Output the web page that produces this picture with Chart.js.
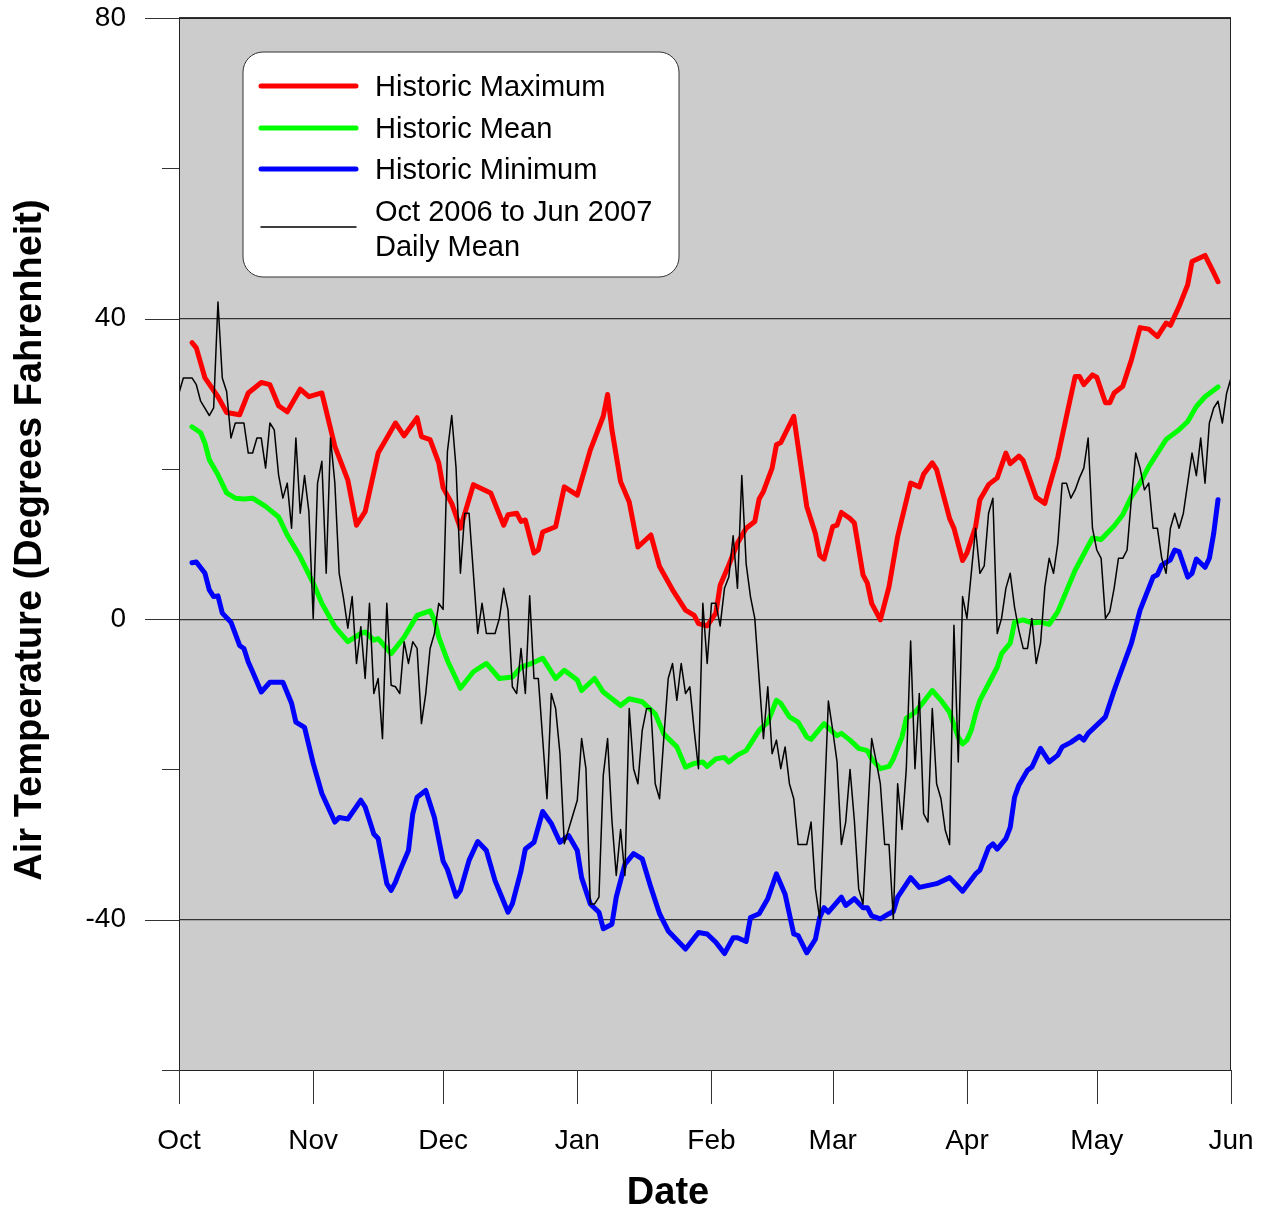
<!DOCTYPE html>
<html>
<head>
<meta charset="utf-8">
<title>Air Temperature - Oct 2006 to Jun 2007</title>
<script src="https://cdn.jsdelivr.net/npm/chart.js@4.4.1/dist/chart.umd.min.js"></script>
<style>
  html, body { margin: 0; padding: 0; background: #fff; }
  #wrap { width: 1266px; height: 1213px; position: relative; }
</style>
</head>
<body>
<div id="wrap"><canvas id="chartTemp"></canvas></div>
<script>
// Month ticks (day of season, Oct 1 = 0)
const monthDays = [0, 31, 61, 92, 123, 151, 182, 212, 243];
const monthLabels = ['Oct', 'Nov', 'Dec', 'Jan', 'Feb', 'Mar', 'Apr', 'May', 'Jun'];

// Historic maximum
const maxDays = [3,4,6,9,11,14,16,19,21,23,25,28,30,33,36,39,41,43,46,50,52,55,56,58,60,61,63,65,68,72,75,76,78,79,80,82,83,84,87,89,92,95,98,99,100,102,104,106,109,111,114,117,119,120,122,124,125,127,129,131,133,134,135,137,138,139,142,145,147,148,149,151,152,153,155,156,158,159,160,162,164,166,169,171,172,174,175,178,179,181,182,184,185,187,189,191,192,194,195,198,200,201,203,205,207,208,209,211,212,214,215,216,218,220,222,224,226,228,229,231,233,234,237,239,240];
const maxVals = [36.8,36.1,32.1,29.6,27.5,27.2,30.1,31.5,31.2,28.4,27.6,30.6,29.6,30.1,23.0,18.5,12.5,14.3,22.1,26.1,24.4,26.8,24.3,23.9,20.8,17.5,15.4,12.1,17.9,16.8,12.5,13.9,14.1,13.0,13.2,8.8,9.2,11.6,12.3,17.6,16.5,22.5,27.0,29.9,25.2,18.3,15.6,9.6,11.2,7.0,3.9,1.2,0.5,-0.6,-0.9,0.8,4.5,7.2,10.1,12.1,13.0,16.0,17.0,20.1,23.2,23.5,27.0,15.0,11.4,8.5,8.0,12.3,12.5,14.2,13.4,12.8,5.9,4.8,2.1,-0.1,4.3,11.0,18.1,17.6,19.3,20.8,19.9,13.4,12.1,7.8,8.8,12.3,15.9,17.9,18.8,22.1,20.7,21.7,21.1,16.2,15.4,17.6,21.6,27.0,32.3,32.3,31.2,32.5,32.2,28.8,28.8,30.1,31.0,34.5,38.8,38.6,37.6,39.4,39.1,41.6,44.5,47.6,48.4,46.1,44.9];

// Historic mean
const meanDays = [3,5,6,7,9,11,13,15,17,20,23,25,28,31,33,36,39,42,43,45,46,49,52,55,58,59,60,62,65,68,71,74,77,79,81,84,87,89,92,93,96,98,102,104,107,110,112,115,117,119,121,122,124,126,127,129,131,134,136,138,139,141,143,145,146,148,149,151,152,153,155,157,159,160,162,164,165,167,168,170,172,174,176,178,180,181,182,183,184,185,187,189,190,192,193,195,197,199,201,203,207,211,213,216,218,220,222,224,228,231,233,235,237,240];
const meanVals = [25.6,24.8,23.4,21.2,19.2,16.8,16.1,16.0,16.1,15.0,13.6,11.2,8.3,4.8,2.1,-1.0,-3.0,-1.9,-1.7,-2.8,-2.6,-4.6,-2.4,0.5,1.1,-0.1,-2.4,-5.5,-9.2,-7.0,-5.9,-7.9,-7.7,-6.4,-6.0,-5.2,-7.9,-6.8,-8.1,-9.5,-7.9,-9.7,-11.5,-10.6,-11.0,-12.6,-15.3,-17.0,-19.7,-19.2,-19.0,-19.6,-18.6,-18.4,-19.0,-18.1,-17.5,-14.8,-13.7,-10.8,-11.2,-13.0,-13.7,-15.7,-16.0,-14.6,-13.9,-15.0,-15.5,-15.2,-16.1,-17.2,-17.5,-18.6,-19.9,-19.6,-18.6,-15.7,-13.2,-12.4,-11.0,-9.5,-10.8,-12.4,-15.7,-16.6,-16.1,-14.8,-12.6,-10.8,-8.6,-6.4,-4.6,-3.2,-0.4,-0.1,-0.5,-0.4,-0.7,1.0,6.5,10.8,10.6,12.4,13.9,16.3,18.1,20.3,23.9,25.2,26.3,28.3,29.6,30.9];

// Historic minimum
const minDays = [3,4,6,7,8,9,10,12,14,15,16,17,19,21,24,26,27,29,31,33,36,37,39,42,43,45,46,48,49,50,51,53,54,55,57,59,60,61,62,64,65,67,69,71,73,76,77,79,80,82,84,86,88,90,92,93,95,97,98,100,101,103,105,107,109,111,113,114,117,120,122,124,126,128,129,131,132,134,136,138,140,142,143,145,147,148,149,150,153,154,156,158,159,160,162,164,165,166,169,171,175,178,181,184,185,187,188,189,191,192,193,194,196,197,199,201,203,204,206,208,209,210,212,214,216,217,220,222,225,226,227,229,230,231,233,234,235,237,238,239,240];
const minVals = [7.5,7.6,6.1,3.9,3.0,3.1,0.8,-0.4,-3.5,-3.9,-5.7,-7.0,-9.7,-8.4,-8.4,-11.2,-13.7,-14.4,-19.2,-23.2,-27.0,-26.4,-26.6,-24.1,-25.0,-28.6,-29.2,-35.2,-36.1,-35.0,-33.5,-30.8,-25.9,-23.7,-22.8,-26.4,-29.3,-32.2,-33.3,-36.9,-36.1,-32.1,-29.6,-30.8,-34.8,-39.0,-37.9,-33.5,-30.6,-29.7,-25.6,-27.2,-29.7,-28.8,-30.8,-34.4,-37.9,-39.0,-41.2,-40.6,-37.0,-32.6,-31.2,-31.9,-35.7,-39.2,-41.5,-42.1,-43.9,-41.7,-41.9,-43.0,-44.5,-42.4,-42.4,-42.9,-39.7,-39.2,-37.2,-33.9,-36.6,-41.9,-42.1,-44.4,-42.6,-39.7,-38.4,-39.0,-37.0,-38.1,-37.2,-38.4,-38.4,-39.5,-39.9,-39.2,-38.9,-37.0,-34.4,-35.7,-35.2,-34.4,-36.2,-33.9,-33.4,-30.4,-29.9,-30.6,-29.2,-27.7,-23.7,-22.1,-20.1,-19.7,-17.2,-19.0,-18.1,-17.0,-16.4,-15.6,-16.1,-15.2,-14.1,-13.0,-9.5,-7.9,-3.2,1.2,5.6,5.9,7.2,7.9,9.2,9.0,5.6,6.1,8.0,6.9,8.1,11.4,15.9];

// Oct 2006 to Jun 2007 daily mean
const dailyDays = [0,1,2,3,4,5,7,8,9,10,11,12,13,14,15,16,17,18,19,20,21,22,23,24,25,26,27,28,29,30,31,32,33,34,35,36,37,38,39,40,41,42,43,44,45,46,47,48,49,50,51,52,53,54,55,56,57,58,59,60,61,62,63,64,65,66,67,69,70,71,72,73,74,75,76,77,78,79,80,81,82,83,85,86,87,88,89,92,93,94,95,96,97,98,99,100,101,102,103,104,105,106,107,108,109,110,111,112,113,114,115,116,117,118,119,120,121,122,123,124,125,126,127,128,129,130,131,132,133,135,136,137,138,139,140,141,142,143,145,146,147,148,150,151,152,153,154,155,156,157,158,160,161,162,163,164,165,166,167,168,169,170,171,172,173,174,175,176,177,178,179,180,181,182,183,184,185,186,187,188,189,190,191,192,193,194,195,196,197,198,199,200,201,202,203,204,205,206,207,208,209,210,211,212,213,214,215,216,217,218,219,220,221,222,223,224,225,226,227,228,229,230,231,232,233,234,235,236,237,238,239,240,241,242,243];
const dailyVals = [30.1,32.1,32.1,32.1,31.2,29.0,27.1,28.1,42.2,32.1,30.3,24.1,26.1,26.1,26.1,22.1,22.1,24.1,24.1,20.1,26.1,25.2,19.2,16.1,18.1,12.1,24.1,14.1,19.1,14.3,0.1,18.1,21.0,6.1,24.1,18.1,6.1,2.8,-1.2,3.0,-5.9,-1.0,-7.9,2.1,-9.9,-7.9,-15.9,2.1,-8.8,-9.0,-9.9,-3.0,-5.9,-3.0,-3.9,-13.9,-9.9,-3.9,-1.9,2.1,1.3,22.3,27.1,20.1,6.1,14.1,14.1,-1.9,2.1,-1.9,-1.9,-1.9,0.1,4.1,1.2,-9.0,-9.9,-3.9,-9.9,3.1,-7.9,-7.9,-23.9,-9.9,-11.9,-17.9,-29.9,-24.1,-15.9,-19.9,-37.9,-37.9,-37.0,-20.8,-15.9,-26.8,-34.1,-28.0,-34.1,-11.9,-19.9,-21.9,-14.8,-11.9,-11.9,-21.9,-23.9,-15.7,-7.9,-5.9,-10.8,-5.9,-9.9,-9.0,-14.8,-19.9,2.1,-5.9,2.1,2.1,-0.9,4.1,5.6,11.1,4.1,19.1,7.4,3.0,0.1,-15.9,-9.0,-17.9,-16.1,-19.9,-17.0,-21.9,-23.9,-30.0,-30.0,-27.0,-35.9,-39.9,-10.9,-14.8,-19.0,-30.0,-27.0,-20.0,-26.8,-35.9,-37.9,-15.9,-18.8,-21.9,-30.0,-30.0,-39.9,-21.9,-28.0,-19.9,-2.9,-19.9,-9.9,-25.9,-27.0,-11.9,-21.9,-23.9,-28.1,-30.0,-0.8,-19.0,3.0,0.1,6.1,12.1,6.1,7.1,14.1,16.1,-1.9,0.1,4.1,6.1,1.6,-1.5,-3.9,-3.9,0.1,-5.9,-3.2,4.3,8.1,6.1,10.1,18.1,18.1,16.1,17.2,18.8,20.1,24.1,12.1,9.2,8.1,0.1,1.0,4.1,8.1,8.1,9.2,16.1,22.1,20.1,17.2,18.1,12.1,12.1,8.1,6.1,12.1,14.1,12.1,14.1,18.1,22.1,19.1,24.1,18.1,26.1,28.1,29.0,26.1,30.1,32.1];

const FONT = "'Liberation Sans', Arial, Helvetica, sans-serif";

// Combina dos listas en puntos {x, y}
function toPoints(days, vals) {
  return days.map((d, i) => ({ x: d, y: vals[i] }));
}

// Fondo gris, marco, marcas de ejes, leyenda y títulos
const plotDecor = {
  id: 'plotDecor',
  beforeDraw(chart) {
    const { ctx, chartArea: a } = chart;
    ctx.save();
    ctx.fillStyle = '#cccccc';
    ctx.fillRect(a.left, a.top, a.right - a.left, a.bottom - a.top);
    ctx.restore();
  },
  afterDraw(chart) {
    const { ctx, chartArea: a, scales } = chart;
    ctx.save();

    // marco del área
    ctx.strokeStyle = '#222';
    ctx.lineWidth = 1;
    ctx.strokeRect(a.left + 0.5, a.top + 0.5, a.right - a.left - 1, a.bottom - a.top);

    // marcas del eje Y (largas cada 40, cortas cada 20)
    ctx.strokeStyle = '#333';
    for (let v = -60; v <= 80; v += 20) {
      const y = Math.round(scales.y.getPixelForValue(v)) + 0.5;
      const len = v % 40 === 0 ? 34 : 17;
      ctx.beginPath();
      ctx.moveTo(a.left - len, y);
      ctx.lineTo(a.left, y);
      ctx.stroke();
    }
    // marcas del eje X (inicio de cada mes)
    monthDays.forEach(d => {
      const x = Math.round(scales.x.getPixelForValue(d)) + 0.5;
      ctx.beginPath();
      ctx.moveTo(x, a.bottom);
      ctx.lineTo(x, a.bottom + 34);
      ctx.stroke();
    });

    // títulos de ejes
    ctx.fillStyle = '#000';
    ctx.font = 'bold 38px ' + FONT;
    ctx.textAlign = 'center';
    ctx.textBaseline = 'middle';
    ctx.fillText('Date', 668, 1194);
    ctx.save();
    ctx.translate(31, 540);
    ctx.rotate(-Math.PI / 2);
    ctx.fillText('Air Temperature (Degrees Fahrenheit)', 0, 0);
    ctx.restore();

    // leyenda con esquinas redondeadas
    const bx = 243, by = 52, bw = 436, bh = 225, r = 20;
    ctx.beginPath();
    ctx.moveTo(bx + r, by);
    ctx.arcTo(bx + bw, by, bx + bw, by + bh, r);
    ctx.arcTo(bx + bw, by + bh, bx, by + bh, r);
    ctx.arcTo(bx, by + bh, bx, by, r);
    ctx.arcTo(bx, by, bx + bw, by, r);
    ctx.closePath();
    ctx.fillStyle = '#fff';
    ctx.fill();
    ctx.strokeStyle = '#333';
    ctx.lineWidth = 1;
    ctx.stroke();

    const items = [
      { ds: 0, y: 86, text: ['Historic Maximum'] },
      { ds: 1, y: 128, text: ['Historic Mean'] },
      { ds: 2, y: 169, text: ['Historic Minimum'] },
      { ds: 3, y: 227, text: ['Oct 2006 to Jun 2007', 'Daily Mean'], ty: 211 }
    ];
    ctx.font = '29px ' + FONT;
    ctx.textAlign = 'left';
    ctx.lineCap = 'round';
    items.forEach(it => {
      const ds = chart.data.datasets[it.ds];
      ctx.strokeStyle = ds.borderColor;
      ctx.lineWidth = ds.borderWidth;
      ctx.beginPath();
      ctx.moveTo(261, it.y);
      ctx.lineTo(356, it.y);
      ctx.stroke();
      ctx.fillStyle = '#000';
      const ty = (it.ty || it.y) + 2;
      it.text.forEach((t, i) => ctx.fillText(t, 375, ty + i * 35));
    });

    ctx.restore();
  }
};

const lineStyle = {
  pointRadius: 0,
  pointHoverRadius: 0,
  tension: 0,
  fill: false,
  borderJoinStyle: 'round',
  borderCapStyle: 'round'
};

const chartTemp = new Chart(document.getElementById('chartTemp'), {
  type: 'line',
  data: {
    datasets: [
      { ...lineStyle, label: 'Historic Maximum', data: toPoints(maxDays, maxVals), borderColor: '#ff0000', borderWidth: 5, order: 1 },
      { ...lineStyle, label: 'Historic Mean', data: toPoints(meanDays, meanVals), borderColor: '#00ff00', borderWidth: 5, order: 1 },
      { ...lineStyle, label: 'Historic Minimum', data: toPoints(minDays, minVals), borderColor: '#0000ff', borderWidth: 5, order: 1 },
      { ...lineStyle, label: 'Oct 2006 to Jun 2007 Daily Mean', data: toPoints(dailyDays, dailyVals), borderColor: '#000000', borderWidth: 1.5, order: 0 }
    ]
  },
  options: {
    responsive: true,
    maintainAspectRatio: false,
    animation: false,
    devicePixelRatio: 1,
    layout: {
      padding: { left: 0, right: 35, top: 18, bottom: 0 }
    },
    plugins: {
      legend: { display: false },
      tooltip: { enabled: false }
    },
    scales: {
      x: {
        type: 'linear',
        min: 0,
        max: 243,
        afterBuildTicks: (scale) => {
          scale.ticks = monthDays.map(v => ({ value: v }));
        },
        afterFit: (scale) => { scale.height = 143; },
        ticks: {
          autoSkip: false,
          maxRotation: 0,
          padding: 0,
          color: '#000',
          font: { family: FONT, size: 28 },
          callback: (v) => monthLabels[monthDays.indexOf(v)]
        },
        // tickLength only spaces the labels; the marks are drawn by plotDecor
        grid: {
          drawOnChartArea: false,
          drawTicks: true,
          tickLength: 54,
          tickColor: 'rgba(0,0,0,0)',
          color: 'rgba(0,0,0,0)'
        },
        border: { display: false }
      },
      y: {
        type: 'linear',
        min: -60,
        max: 80,
        afterFit: (scale) => { scale.width = 179; },
        ticks: {
          stepSize: 20,
          padding: 0,
          color: '#000',
          font: { family: FONT, size: 28 },
          callback: (v) => (v % 40 === 0 ? String(v) : '')
        },
        grid: {
          drawTicks: true,
          tickLength: 53,
          tickColor: 'rgba(0,0,0,0)',
          lineWidth: 1.2,
          color: (c) => (c.tick && c.tick.value % 40 === 0 ? '#333' : 'rgba(0,0,0,0)')
        },
        border: { display: false }
      }
    }
  },
  plugins: [plotDecor]
});
</script>
</body>
</html>
